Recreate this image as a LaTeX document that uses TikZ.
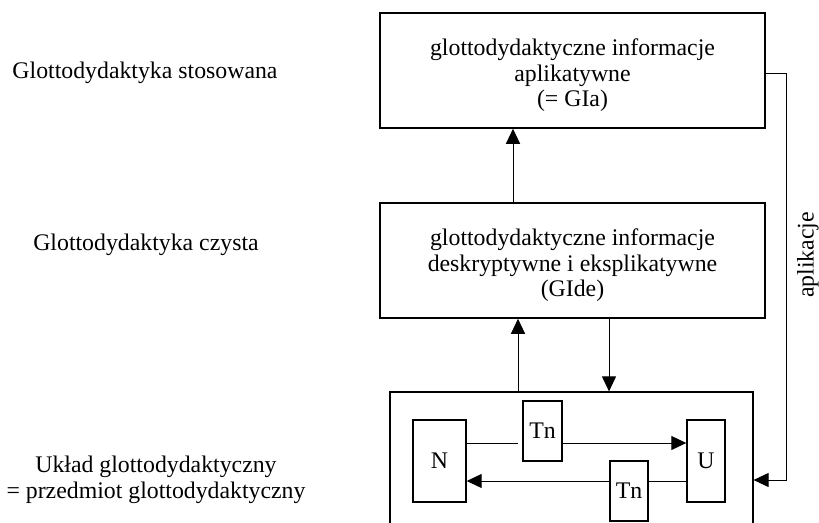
\documentclass[tikz,border=0pt]{standalone}
\usepackage{fontspec}
\setmainfont{Liberation Serif}
\usetikzlibrary{arrows.meta}
\begin{document}
\begin{tikzpicture}[x=1pt,y=-1pt,
  every node/.style={font=\fontsize{23.8}{25.5}\selectfont, inner sep=0pt},
  bigbox/.style={draw, line width=1.5pt, minimum width=385pt, minimum height=115pt},
  smallbox/.style={draw, line width=1.4pt},
  label/.style={align=center},
  conn/.style={line width=1pt},
  arr/.style={conn, -{Triangle[length=15pt,width=14pt]}}
]
\clip (0,0) rectangle (819,522);
\useasboundingbox (0,0) rectangle (819,522);

% side labels
\node[label] (lstos) at (145,73) {Glottodydaktyka stosowana};
\node[label] (lczys) at (146,245) {Glottodydaktyka czysta};
\node[label] (luklad) at (156,480) {Układ glottodydaktyczny\\= przedmiot glottodydaktyczny};

% information boxes with their texts
\node[bigbox] (GIa) at (572.5,70.5) {};
\node[label] (GIatext) at (572.5,75.5) {glottodydaktyczne informacje\\aplikatywne\\(= GIa)};
\node[bigbox] (GIde) at (572.5,260.5) {};
\node[label] (GIdetext) at (572.5,265.5) {glottodydaktyczne informacje\\deskryptywne i eksplikatywne\\(GIde)};

% the system box (open at the bottom)
\node[draw, line width=1.2pt, minimum width=363pt, minimum height=200pt] (outer) at (571.5,492) {};

% inner elements
\node[smallbox, minimum width=53pt, minimum height=82pt] (N) at (439.5,461) {N};
\node[smallbox, minimum width=38pt, minimum height=82pt] (U) at (706,461) {U};
\node[smallbox, minimum width=39pt, minimum height=60pt] (Tn1) at (542.5,431) {Tn};
\node[smallbox, minimum width=38pt, minimum height=60pt] (Tn2) at (629,491) {Tn};

% vertical connectors between levels
\draw[arr] (GIde.north -| 513,0) -- (GIa.south -| 513,0);
\draw[arr] (outer.north -| 518,0) -- (GIde.south -| 518,0);
\draw[arr] (GIde.south -| 609,0) -- (outer.north -| 609,0);

% application loop
\coordinate (apR) at (786,73);
\draw[arr] (GIa.east |- apR) -- (apR) -- (apR |- 0,480) -- (outer.east |- 0,480);
\node[rotate=90] (apl) at (808,255) {aplikacje};

% N -> U through Tn
\coordinate (gapA) at (518,443);
\draw[conn] (N.east |- gapA) -- (gapA);
\draw[arr] (Tn1.east |- gapA) -- (U.west |- gapA);
% U -> N through Tn
\coordinate (lowB) at (0,481);
\draw[conn] (U.west |- lowB) -- (Tn2.east |- lowB);
\draw[arr] (Tn2.west |- lowB) -- (N.east |- lowB);
\end{tikzpicture}
\end{document}
